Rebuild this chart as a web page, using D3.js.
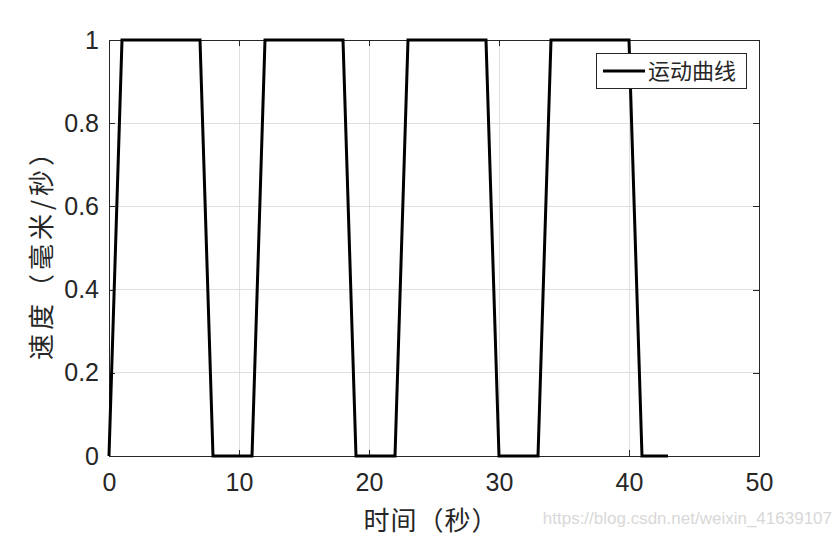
<!DOCTYPE html>
<html>
<head>
<meta charset="utf-8">
<script src="https://cdn.jsdelivr.net/npm/d3@7"></script>
<style>
  html, body { margin: 0; padding: 0; background: #fff; }
  svg { display: block; }
</style>
</head>
<body>
<svg id="chart" width="840" height="537"></svg>
<script>
// Data
const timeValues  = [0, 1, 7, 8, 11, 12, 18, 19, 22, 23, 29, 30, 33, 34, 40, 41, 43];
const speedValues = [0, 1, 1, 0, 0,  1,  1,  0,  0,  1,  1,  0,  0,  1,  1,  0,  0];
const xTicks = [0, 10, 20, 30, 40, 50];
const yTicks = [0, 0.2, 0.4, 0.6, 0.8, 1];
const xTitle = "时间（秒）";
const yTitle = "速度（毫米/秒）";
const legendLabel = "运动曲线";
const watermark = "https://blog.csdn.net/weixin_41639107";

const W = 840, H = 537;
const margin = { left: 109, right: 81, top: 40, bottom: 81 };
const iw = W - margin.left - margin.right;
const ih = H - margin.top - margin.bottom;

const svg = d3.select("#chart");
const g = svg.append("g").attr("transform", `translate(${margin.left},${margin.top})`);

const x = d3.scaleLinear().domain([0, 50]).range([0, iw]);
const y = d3.scaleLinear().domain([0, 1]).range([ih, 0]);

const tickFont = "'Liberation Sans', Arial, sans-serif";
const cjkFont = "'Noto Sans CJK SC', sans-serif";
const axisColor = "#262626";

// Grid
g.append("g").selectAll("line.gx").data(xTicks).enter().append("line")
  .attr("x1", d => x(d)).attr("x2", d => x(d)).attr("y1", 0).attr("y2", ih)
  .attr("stroke", "#dfdfdf").attr("stroke-width", 1).attr("shape-rendering", "crispEdges");
g.append("g").selectAll("line.gy").data(yTicks).enter().append("line")
  .attr("x1", 0).attr("x2", iw).attr("y1", d => y(d)).attr("y2", d => y(d))
  .attr("stroke", "#dfdfdf").attr("stroke-width", 1).attr("shape-rendering", "crispEdges");

// Axes
function styleAxis(sel) {
  sel.select(".domain").attr("stroke", axisColor).attr("stroke-width", 1);
  sel.selectAll(".tick line").attr("stroke", axisColor);
  sel.selectAll("text").attr("fill", axisColor).style("font-family", tickFont).style("font-size", "25px");
  sel.attr("shape-rendering", "crispEdges");
}
const xAxis = g.append("g").attr("transform", `translate(0,${ih})`)
  .call(d3.axisBottom(x).tickValues(xTicks).tickSizeInner(-6).tickSizeOuter(0).tickPadding(14).tickFormat(d3.format("d")));
styleAxis(xAxis);
xAxis.selectAll("text").attr("dy", "0.71em").attr("y", 17);

const xAxisTop = g.append("g")
  .call(d3.axisTop(x).tickValues(xTicks).tickSizeInner(-6).tickSizeOuter(0).tickFormat(""));
styleAxis(xAxisTop);

const yAxis = g.append("g")
  .call(d3.axisLeft(y).tickValues(yTicks).tickSizeInner(-6).tickSizeOuter(0).tickPadding(16).tickFormat(d => d3.format("")(d)));
styleAxis(yAxis);
yAxis.selectAll("text").attr("x", -10);

const yAxisRight = g.append("g").attr("transform", `translate(${iw},0)`)
  .call(d3.axisRight(y).tickValues(yTicks).tickSizeInner(-6).tickSizeOuter(0).tickFormat(""));
styleAxis(yAxisRight);

// Line
const pts = timeValues.map((t, i) => [t, speedValues[i]]);
g.append("path").datum(pts)
  .attr("fill", "none").attr("stroke", "#000").attr("stroke-width", 3)
  .attr("stroke-linejoin", "miter")
  .attr("d", d3.line().x(d => x(d[0])).y(d => y(d[1])));

// Titles
svg.append("text").attr("x", margin.left + iw / 2 - 3).attr("y", 530)
  .attr("text-anchor", "middle").attr("fill", axisColor)
  .style("font-family", cjkFont).style("font-size", "26px").style("letter-spacing", "1px").text(xTitle);

svg.append("text").attr("transform", `translate(51,${margin.top + ih / 2}) rotate(-90)`)
  .attr("text-anchor", "middle").attr("fill", axisColor)
  .style("font-family", cjkFont).style("font-size", "26px").style("letter-spacing", "4px").text(yTitle);

// Legend
const lg = svg.append("g");
lg.append("rect").attr("x", 596.5).attr("y", 53.5).attr("width", 150).attr("height", 35)
  .attr("fill", "#fff").attr("stroke", axisColor).attr("stroke-width", 1);
lg.append("line").attr("x1", 603).attr("x2", 645).attr("y1", 71).attr("y2", 71)
  .attr("stroke", "#000").attr("stroke-width", 3);
lg.append("text").attr("x", 648).attr("y", 79).attr("fill", axisColor)
  .style("font-family", cjkFont).style("font-size", "22px").text(legendLabel);

// Watermark
svg.append("text").attr("x", 832).attr("y", 524).attr("text-anchor", "end")
  .attr("fill", "#d8d8d8").style("font-family", tickFont).style("font-size", "17px").text(watermark);
</script>
</body>
</html>
